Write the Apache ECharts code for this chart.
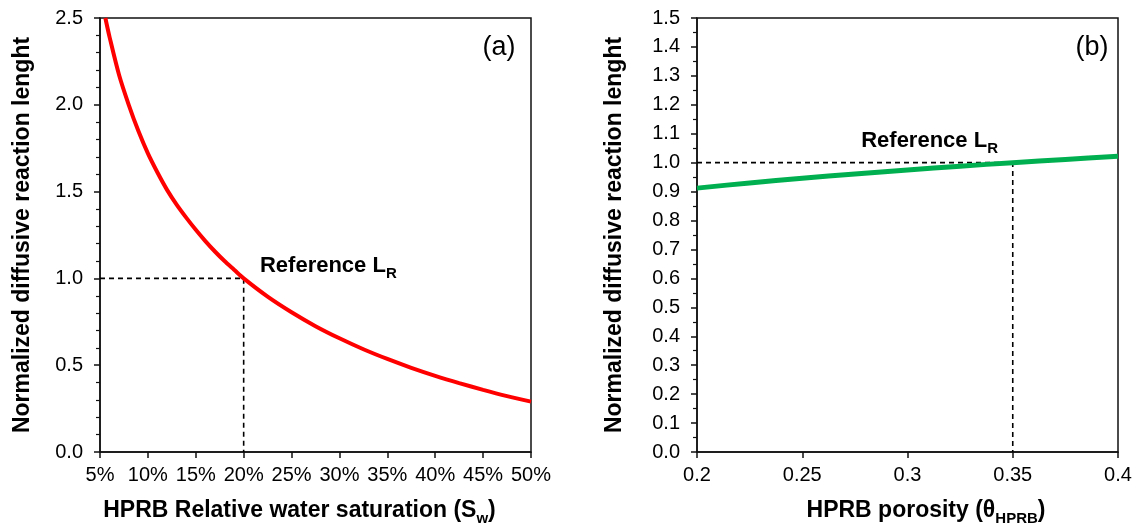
<!DOCTYPE html>
<html>
<head>
<meta charset="utf-8">
<script src="https://cdn.jsdelivr.net/npm/echarts@6/dist/echarts.min.js"></script>
<style>
  html, body { margin: 0; padding: 0; background: #fff; }
  #chart { width: 1137px; height: 528px; }
</style>
</head>
<body>
<div id="chart"></div>
<script>
// (a) Normalized diffusive reaction length vs. relative water saturation (%)
const saturationPct = [5.56, 6, 7, 8, 9, 10, 11, 12, 13, 14, 15, 16, 17, 18, 19, 20,
  22.5, 25, 27.5, 30, 32.5, 35, 37.5, 40, 42.5, 45, 47.5, 50];
const lengthVsSaturation = [2.50, 2.39, 2.17, 2.00, 1.85, 1.72, 1.61, 1.51, 1.425, 1.35, 1.28, 1.215, 1.155, 1.10, 1.05, 1.00,
  0.895, 0.805, 0.725, 0.655, 0.592, 0.536, 0.485, 0.439, 0.397, 0.358, 0.322, 0.29];

// (b) Normalized diffusive reaction length vs. porosity
const porosity = [0.2, 0.225, 0.25, 0.275, 0.3, 0.325, 0.35, 0.375, 0.4];
const lengthVsPorosity = [0.912, 0.930, 0.946, 0.961, 0.975, 0.988, 1.0, 1.011, 1.022];

// Reference point L_R for each panel
const refSaturationPct = 20;
const refPorosity = 0.35;
const refLength = 1.0;

const yTicksA = { min: 0, max: 2.5, interval: 0.5 };
const yTicksB = { min: 0, max: 1.5, interval: 0.1 };
const xTicksA = { min: 5, max: 50, interval: 5 };
const xTicksB = { min: 0.2, max: 0.4, interval: 0.05 };

const FONT = "'Liberation Sans', Arial, Helvetica, sans-serif";
const INK = '#000';
const LINE = '#111';

const chart = echarts.init(document.getElementById('chart'), null, { renderer: 'canvas' });

function yAxisCfg(ticks, gridIndex, gap, minorSplit) {
  return {
    type: 'value', gridIndex, min: ticks.min, max: ticks.max, interval: ticks.interval,
    name: 'Normalized diffusive reaction lenght',
    nameLocation: 'middle', nameGap: gap,
    nameTextStyle: { fontFamily: FONT, fontWeight: 'bold', fontSize: 23, color: INK },
    axisLine: { show: true, lineStyle: { color: LINE, width: 1.5 } },
    axisTick: { show: true, inside: false, length: 6, lineStyle: { color: LINE, width: 1.5 } },
    minorTick: { show: true, splitNumber: minorSplit, length: 4, lineStyle: { color: LINE, width: 1.2 } },
    splitLine: { show: false },
    axisLabel: { fontFamily: FONT, fontSize: 20, color: INK, margin: 17,
      formatter: v => v.toFixed(1) }
  };
}

function xAxisCfg(ticks, gridIndex, formatter, name, rich, pad) {
  return {
    type: 'value', gridIndex, min: ticks.min, max: ticks.max, interval: ticks.interval,
    name, nameLocation: 'middle', nameGap: 44,
    nameTextStyle: { fontFamily: FONT, fontWeight: 'bold', fontSize: 23, color: INK, padding: pad, rich },
    axisLine: { show: true, onZero: false, lineStyle: { color: LINE, width: 1.5 } },
    axisTick: { show: true, inside: false, length: 6, lineStyle: { color: LINE, width: 1.5 } },
    splitLine: { show: false },
    axisLabel: { fontFamily: FONT, fontSize: 20, color: INK, margin: 13, formatter }
  };
}

const subRich = {
  main: { fontFamily: FONT, fontWeight: 'bold', fontSize: 23, color: INK, lineHeight: 30, verticalAlign: 'middle' },
  sub: { fontFamily: FONT, fontWeight: 'bold', fontSize: 15, color: INK, lineHeight: 30, verticalAlign: 'bottom' }
};
const refRich = {
  main: { fontFamily: FONT, fontWeight: 'bold', fontSize: 22, color: INK, lineHeight: 30, verticalAlign: 'middle' },
  sub: { fontFamily: FONT, fontWeight: 'bold', fontSize: 15, color: INK, lineHeight: 30, verticalAlign: 'bottom' }
};

const dash = { color: '#000', width: 1.6, type: [5, 4] };

function refLabelSeries(xi, yi, point) {
  return {
    type: 'scatter', xAxisIndex: xi, yAxisIndex: yi, symbolSize: 0, silent: true,
    itemStyle: { opacity: 1 },
    data: [point],
    label: { show: true, position: 'right', distance: 0,
      formatter: '{main|Reference L}{sub|R}', rich: refRich }
  };
}

function cornerTag(xi, yi, point, text) {
  return {
    type: 'scatter', xAxisIndex: xi, yAxisIndex: yi, symbolSize: 0, silent: true,
    itemStyle: { opacity: 1 },
    data: [point],
    label: { show: true, position: 'inside', formatter: text,
      fontFamily: FONT, fontSize: 27, color: INK }
  };
}

const option = {
  backgroundColor: '#fff',
  animation: false,
  grid: [
    { left: 100, top: 18, width: 431, height: 434, outerBoundsMode: 'none', containLabel: false,
      show: true, borderColor: LINE, borderWidth: 1.5, backgroundColor: 'transparent' },
    { left: 697, top: 18, width: 421, height: 434, outerBoundsMode: 'none', containLabel: false,
      show: true, borderColor: LINE, borderWidth: 1.5, backgroundColor: 'transparent' }
  ],
  xAxis: [
    xAxisCfg(xTicksA, 0, v => v + '%', '{main|HPRB Relative water saturation (S}{sub|w}{main|)}', subRich, [0, 32, 0, 0]),
    xAxisCfg(xTicksB, 1, v => String(+v.toFixed(2)), '{main|HPRB porosity (θ}{sub|HPRB}{main|)}', subRich, [0, 0, 0, 37])
  ],
  yAxis: [
    yAxisCfg(yTicksA, 0, 66, 5),
    yAxisCfg(yTicksB, 1, 71, 2)
  ],
  series: [
    {
      type: 'line', xAxisIndex: 0, yAxisIndex: 0, symbol: 'none', smooth: 0.3, clip: true,
      lineStyle: { color: '#ff0000', width: 4 },
      data: saturationPct.map((s, i) => [s, lengthVsSaturation[i]]), z: 3
    },
    {
      type: 'line', xAxisIndex: 0, yAxisIndex: 0, symbol: 'none', silent: true,
      lineStyle: dash, z: 2,
      data: [[xTicksA.min, refLength], [refSaturationPct, refLength], [refSaturationPct, 0]]
    },
    {
      type: 'line', xAxisIndex: 1, yAxisIndex: 1, symbol: 'none', smooth: 0.3,
      lineStyle: { color: '#00b050', width: 5 },
      data: porosity.map((p, i) => [p, lengthVsPorosity[i]]), z: 3
    },
    {
      type: 'line', xAxisIndex: 1, yAxisIndex: 1, symbol: 'none', silent: true,
      lineStyle: dash, z: 2,
      data: [[xTicksB.min, refLength], [refPorosity, refLength], [refPorosity, 0]]
    },
    refLabelSeries(0, 0, [21.7, 1.07]),
    refLabelSeries(1, 1, [0.278, 1.075]),
    cornerTag(0, 0, [46.66, 2.327], '(a)'),
    cornerTag(1, 1, [0.3876, 1.397], '(b)')
  ]
};

chart.setOption(option);
</script>
</body>
</html>
